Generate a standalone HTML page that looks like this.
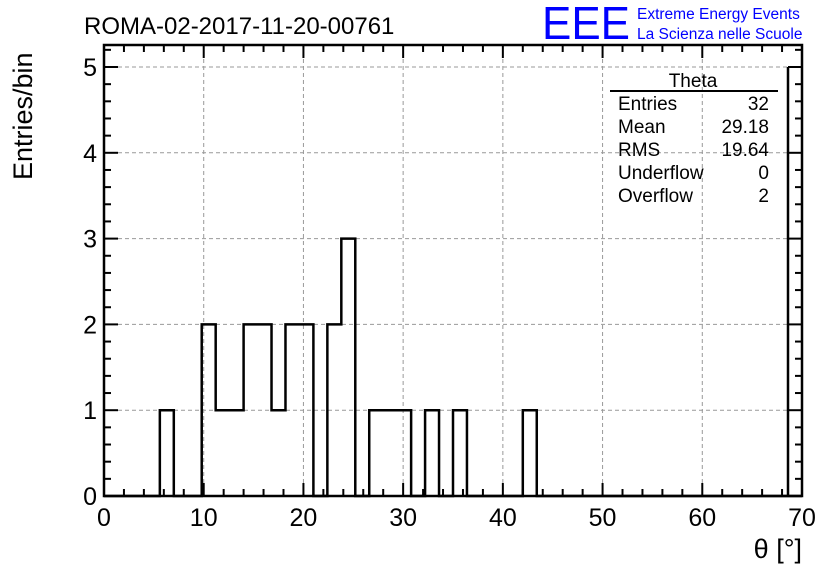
<!DOCTYPE html>
<html><head><meta charset="utf-8"><style>
body{margin:0;background:#fff;}
svg text{font-family:"Liberation Sans",sans-serif;}
</style></head><body>
<svg id="c" width="836" height="572" xmlns="http://www.w3.org/2000/svg">
<text x="84" y="34" font-size="24">ROMA-02-2017-11-20-00761</text>
<text x="542" y="39" font-size="46" fill="#00f" textLength="88" lengthAdjust="spacingAndGlyphs">EEE</text>
<text x="637" y="19" font-size="15.5" fill="#00f">Extreme Energy Events</text>
<text x="637" y="39" font-size="15.5" fill="#00f">La Scienza nelle Scuole</text>
<text transform="translate(32,180) rotate(-90)" font-size="27" text-anchor="start">Entries/bin</text>
<text x="802" y="558" font-size="27" text-anchor="end">θ [°]</text>
<g id="grid"></g><g id="ticks"></g><g id="labels"></g>
<path id="hist" fill="none" stroke="#000" stroke-width="2.5"/>
<line x1="788" y1="67" x2="788" y2="496" stroke="#000" stroke-width="2.5"/>
<rect x="104" y="45" width="698" height="451" fill="none" stroke="#000" stroke-width="2.5"/>
<g font-size="19">
<text x="693" y="87" text-anchor="middle">Theta</text>
<line x1="610" y1="91" x2="778" y2="91" stroke="#000" stroke-width="2"/>
<text x="618" y="110">Entries</text><text x="769" y="110" text-anchor="end">32</text>
<text x="618" y="133">Mean</text><text x="769" y="133" text-anchor="end">29.18</text>
<text x="618" y="156">RMS</text><text x="769" y="156" text-anchor="end">19.64</text>
<text x="618" y="179">Underflow</text><text x="769" y="179" text-anchor="end">0</text>
<text x="618" y="202">Overflow</text><text x="769" y="202" text-anchor="end">2</text>
</g>
</svg>
<script>
const binWidth = 1.4;
const binStarts = [4,7,8,9,10,11,12,13,14,15,16,17,18,19,20,21,22,23,24,25,26,30,31];
const binCounts = [1,2,1,1,2,2,1,2,2,0,2,3,0,1,1,1,0,1,0,1,0,1,0];
const xTicks = [0,10,20,30,40,50,60,70];
const yTicks = [0,1,2,3,4,5];
const NS="http://www.w3.org/2000/svg";
const X0=104,X1=802,Y0=496,Y1=45;
const xs=v=>X0+v*(X1-X0)/70;
const ys=v=>Y0-v*85.8;
function mk(t,a,p){const e=document.createElementNS(NS,t);for(const k in a)e.setAttribute(k,a[k]);p.appendChild(e);return e;}
const g=document.getElementById('grid'),tk=document.getElementById('ticks'),lb=document.getElementById('labels');
xTicks.forEach(v=>{
  if(v>0&&v<70){const l=mk('line',{x1:xs(v),x2:xs(v),y1:Y1,y2:Y0,stroke:'#999','stroke-dasharray':'4,3'},g);
  
  }
  const t=mk('text',{x:xs(v),y:526,'font-size':25,'text-anchor':'middle'},lb);t.textContent=v;
  
  
});
yTicks.forEach(v=>{
  if(v>0){const l=mk('line',{x1:X0,x2:X1,y1:ys(v),y2:ys(v),stroke:'#999','stroke-dasharray':'4,3'},g);
  
  }
  const t=mk('text',{x:97,y:ys(v)+9,'font-size':25,'text-anchor':'end'},lb);t.textContent=v;
  
  
});
for(let v=0;v<=70;v+=2){const L=v%10==0?13:7;
  mk('line',{x1:xs(v),x2:xs(v),y1:Y0,y2:Y0-L,stroke:'#000','stroke-width':2},tk);
  mk('line',{x1:xs(v),x2:xs(v),y1:Y1,y2:Y1+L,stroke:'#000','stroke-width':2},tk);}
for(let i=0;i<=26;i++){const v=i*0.2;const L=i%5==0?14:7;
  mk('line',{x1:X0,x2:X0+L,y1:ys(v),y2:ys(v),stroke:'#000','stroke-width':2},tk);
  mk('line',{x1:X1,x2:X1-L,y1:ys(v),y2:ys(v),stroke:'#000','stroke-width':2},tk);}
let d='M'+X0+','+Y0;
let prevEnd=null;
binStarts.forEach((b,i)=>{const xa=xs(b*binWidth),xb=xs((b+1)*binWidth),y=ys(binCounts[i]);
  if(prevEnd!==b) d+=' L'+xa+','+Y0;
  d+=' L'+xa+','+y+' L'+xb+','+y;
  if(i==binStarts.length-1||binStarts[i+1]!=b+1)d+=' L'+xb+','+Y0;
  prevEnd=b+1;});
d+=' L'+X1+','+Y0;
document.getElementById('hist').setAttribute('d',d);
</script>
</body></html>
